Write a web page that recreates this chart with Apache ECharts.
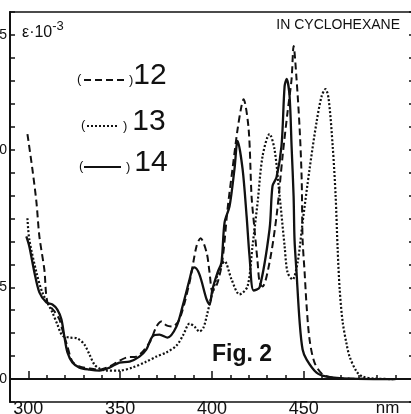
<!DOCTYPE html>
<html>
<head>
<meta charset="utf-8">
<script src="https://cdn.jsdelivr.net/npm/echarts@6/dist/echarts.min.js"></script>
<style>
  html, body { margin: 0; padding: 0; background: #fff; }
  #chart { width: 411px; height: 414px; }
</style>
</head>
<body>
<div id="chart"></div>
<script>
// wavelength (nm) and extinction (axis units)
var nm12 = [299.5,302.2,304.4,306.0,308.7,310.4,314.2,316.9,318.5,321.3,324.0,327.8,333.3,338.7,344.2,348.0,353.4,358.9,366.0,369.8,372.5,375.2,378.5,382.3,387.8,391.6,393.8,397.1,398.7,400.3,403.1,405.8,408.5,411.2,414.0,416.1,417.2,420.0,421.6,423.2,424.9,426.0,427.6,431.4,435.2,438.5,441.2,443.4,444.5,446.1,447.8,448.9,449.4,450.5,451.6,453.2,455.9,460.3,465.8,475.0,500.0];
var eps12 = [10.68,9.15,7.71,6.22,4.78,3.34,2.95,2.60,2.16,1.42,0.76,0.55,0.46,0.41,0.55,0.72,0.94,0.98,1.59,2.29,2.51,2.34,2.29,2.60,4.21,5.79,6.14,5.52,4.65,3.82,4.21,5.22,7.40,9.15,10.90,11.90,12.20,10.90,7.97,6.53,5.09,4.21,4.04,5.09,7.10,9.72,11.64,13.08,14.52,13.08,10.90,8.71,6.09,4.65,3.17,1.72,0.72,0.20,0.07,0.02,0];

var nm13 = [299.5,300.5,304.4,307.6,313.1,315.8,318.5,322.4,326.7,330.5,333.3,336.0,338.7,342.5,349.6,356.7,364.3,369.8,375.2,380.7,384.5,387.8,390.5,393.2,395.4,397.1,400.3,404.1,406.9,410.7,415.0,419.4,422.1,424.9,427.6,431.4,434.1,436.9,439.6,441.2,443.9,446.7,449.4,453.2,457.0,459.8,461.9,463.6,465.8,467.4,468.5,469.6,471.2,473.4,475.0,478.8,482.1,488.7,500.0];
var eps13 = [7.01,6.09,4.65,3.78,2.90,2.38,1.90,1.81,1.77,1.51,1.07,0.63,0.46,0.37,0.37,0.50,0.76,0.98,1.16,1.46,1.94,2.42,2.29,2.07,2.25,2.73,3.78,4.78,5.13,4.34,3.69,4.04,5.79,7.71,9.72,10.68,10.02,7.97,5.79,4.65,4.34,5.09,6.83,9.16,11.20,12.34,12.64,12.20,10.15,7.97,5.66,3.91,2.51,1.51,0.98,0.33,0.11,0.02,0];

var nm14 = [298.9,300.5,303.3,306.0,309.8,313.1,315.8,318.0,319.6,321.3,324.0,327.8,333.3,338.7,344.2,349.6,355.1,360.5,364.3,367.6,371.4,375.8,380.7,384.0,387.8,389.4,390.5,393.2,397.1,398.7,400.3,403.1,405.2,406.9,409.6,412.3,414.0,416.7,418.9,420.5,422.7,426.0,431.4,433.0,435.2,437.9,439.6,440.7,442.3,443.4,444.5,445.0,446.1,447.8,449.4,451.6,457.0,462.5,475.0,500.0];
var eps14 = [6.22,5.79,4.65,3.78,3.34,3.25,3.03,2.60,1.86,1.16,0.72,0.50,0.41,0.37,0.50,0.72,0.76,0.98,1.29,1.86,1.94,1.81,2.29,3.17,4.34,4.82,4.87,4.56,3.47,3.25,3.91,4.65,5.09,6.83,7.53,9.16,10.38,9.16,7.10,5.35,3.86,4.00,6.53,8.41,8.80,10.15,12.77,13.08,12.34,10.15,7.97,6.09,4.65,2.47,1.29,0.85,0.28,0.11,0.02,0];

var xLabelValues = [300, 350, 400, 450, 500];
var xMajorTicks = [300, 350, 400, 450];
var yLabelValues = [0, 4, 10, 15];
var yLabelTexts = ['0', '5', '10', '15'];

function zip(xs, ys) {
  return xs.map(function (x, i) { return [x, ys[i]]; });
}

var FONT = 'Liberation Sans';
var INK = '#111';

function legendFor(name, left, top, width, gap) {
  return {
    data: [name], left: left, top: top, padding: 0,
    orient: 'vertical', itemWidth: width, itemHeight: 12, selectedMode: false,
    itemStyle: { opacity: 0 },
    formatter: function (n) { return '{p|)}{n|' + n + '}'; },
    textStyle: {
      color: INK, fontFamily: FONT,
      rich: {
        p: { fontSize: 13, color: INK, fontFamily: FONT, padding: [0, gap, 0, 0] },
        n: { fontSize: 30, lineHeight: 30, color: INK, fontFamily: FONT, padding: [0, 0, 8, 0] }
      }
    }
  };
}

var chart = echarts.init(document.getElementById('chart'));
chart.setOption({
  animation: false,
  backgroundColor: '#fff',
  grid: {
    left: 10, top: 12, right: -1, bottom: 12, show: true, borderColor: INK, borderWidth: 1.5,
    containLabel: false, outerBoundsMode: 'none'
  },
  xAxis: [{
    type: 'value', min: 290, max: 509, interval: 10, position: 'bottom',
    axisLine: { show: true, lineStyle: { color: INK, width: 2 } },
    axisTick: { show: true, inside: true, length: 4, lineStyle: { color: INK, width: 1.5 } },
    axisLabel: {
      customValues: xLabelValues, margin: -2, color: INK, fontSize: 18, fontFamily: FONT,
      formatter: function (v) { return v === 500 ? '{u|nm}' : String(v); },
      rich: { u: { fontSize: 17, color: INK, fontFamily: FONT, padding: [0, 16, 0, 0] } }
    },
    splitLine: { show: false }
  }, {
    type: 'value', min: 290, max: 509, position: 'bottom',
    axisLine: { show: false },
    axisTick: { show: true, inside: true, length: 8, customValues: xMajorTicks, lineStyle: { color: INK, width: 1.5 } },
    axisLabel: { show: false },
    splitLine: { show: false }
  }],
  yAxis: [{
    type: 'value', min: -1, max: 16, interval: 1, position: 'left',
    axisLine: { show: true, lineStyle: { color: INK, width: 2 } },
    axisTick: { show: true, inside: true, length: 5, lineStyle: { color: INK, width: 1.5 } },
    axisLabel: {
      customValues: yLabelValues, margin: 3, color: INK, fontSize: 14, fontFamily: FONT,
      formatter: function (v) { return yLabelTexts[yLabelValues.indexOf(v)]; }
    },
    splitLine: { show: false }
  }, {
    type: 'value', min: -1, max: 16, interval: 1, position: 'right',
    axisLine: { show: false },
    axisTick: { show: true, inside: true, length: 3, lineStyle: { color: INK, width: 1.5 } },
    axisLabel: { show: false },
    splitLine: { show: false }
  }],
  legend: [
    legendFor('12', 83, 61, 40, 0),
    legendFor('13', 86, 107, 31, 5),
    legendFor('14', 83, 148, 37, 4)
  ],
  series: [{
    name: '12', type: 'line', data: zip(nm12, eps12), symbol: 'none', smooth: 0.3,
    itemStyle: { color: INK },
    lineStyle: { color: INK, width: 2, type: [7, 4] }
  }, {
    name: '13', type: 'line', data: zip(nm13, eps13), symbol: 'none', smooth: 0.3,
    itemStyle: { color: INK },
    lineStyle: { color: INK, width: 2.2, type: [2, 2] }
  }, {
    name: '14', type: 'line', data: zip(nm14, eps14), symbol: 'none', smooth: 0.3,
    itemStyle: { color: INK },
    lineStyle: { color: INK, width: 2.3 }
  }],
  graphic: [
    { type: 'text', left: 77, top: 73, style: { text: '(', fontSize: 13, fontFamily: FONT, fill: INK } },
    { type: 'text', left: 81, top: 119, style: { text: '(', fontSize: 13, fontFamily: FONT, fill: INK } },
    { type: 'text', left: 79, top: 160, style: { text: '(', fontSize: 13, fontFamily: FONT, fill: INK } },
    {
      type: 'text', left: 22, top: 20,
      style: {
        text: '{a|ε·10}{s|-3}',
        rich: {
          a: { fontSize: 16, fontFamily: FONT, fill: INK },
          s: { fontSize: 13, fontFamily: FONT, fill: INK, padding: [0, 0, 12, 0] }
        }
      }
    },
    { type: 'text', right: 11, top: 18, style: { text: 'IN CYCLOHEXANE', fontSize: 14, fontFamily: FONT, fill: INK } },
    { type: 'text', left: 212, top: 343, style: { text: 'Fig. 2', fontSize: 23, fontWeight: 'bold', fontFamily: FONT, fill: INK } }
  ]
});
</script>
</body>
</html>
